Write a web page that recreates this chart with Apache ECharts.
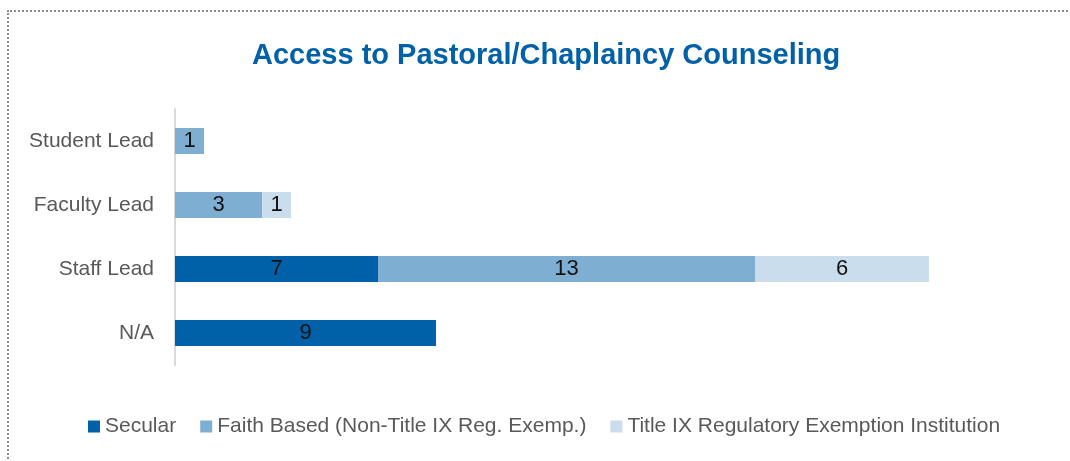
<!DOCTYPE html>
<html><head><meta charset="utf-8">
<script src="https://cdn.jsdelivr.net/npm/echarts@6/dist/echarts.min.js"></script>
<style>
html,body{margin:0;padding:0;background:#fff;}
#frame{position:absolute;left:7px;top:10px;right:-10px;bottom:-10px;border-top:2px dotted #8c8c8c;border-left:2px dotted #8c8c8c;}
#c{position:absolute;left:0;top:0;width:1070px;height:461px;}
</style></head>
<body>
<div id="frame"></div>
<div id="c"></div>
<script>
var categories = ['Student Lead', 'Faculty Lead', 'Staff Lead', 'N/A'];
var seriesNames = ['Secular', 'Faith Based (Non-Title IX Reg. Exemp.)', 'Title IX Regulatory Exemption Institution'];
var secular = [0, 0, 7, 9];
var faithBased = [1, 3, 13, 0];
var titleIX = [0, 1, 6, 0];
var colors = ['#0061A9', '#7FAED3', '#C9DDEC'];

var FONT = 'Liberation Sans, Arial, sans-serif';
var chart = echarts.init(document.getElementById('c'));
function mk(name, data, color) {
  return {
    name: name, type: 'bar', stack: 'all', data: data, barWidth: 26,
    itemStyle: { color: color },
    label: { show: true, position: 'inside', color: '#111', fontSize: 22,
      fontFamily: FONT,
      formatter: function (p) { return p.value ? String(p.value) : ''; } }
  };
}
chart.setOption({
  animation: false,
  title: { text: 'Access to Pastoral/Chaplaincy Counseling', left: 247, top: 36,
    textStyle: { color: '#0061A9', fontSize: 29, fontWeight: 'bold', fontFamily: FONT } },
  legend: { data: seriesNames, left: 83, top: 411, itemWidth: 12, itemHeight: 12, itemGap: 24,
    icon: 'rect',
    textStyle: { color: '#595959', fontSize: 21, fontFamily: FONT } },
  grid: { left: 175, top: 109, height: 256, width: 870, containLabel: false },
  xAxis: { type: 'value', min: 0, max: 30, show: false },
  yAxis: { type: 'category', data: categories, inverse: true,
    axisLine: { show: true, lineStyle: { color: '#d9d9d9', width: 2 } },
    axisTick: { show: false },
    axisLabel: { color: '#595959', fontSize: 21, margin: 21, fontFamily: FONT } },
  series: [mk(seriesNames[0], secular, colors[0]), mk(seriesNames[1], faithBased, colors[1]), mk(seriesNames[2], titleIX, colors[2])]
});
</script>
</body></html>
